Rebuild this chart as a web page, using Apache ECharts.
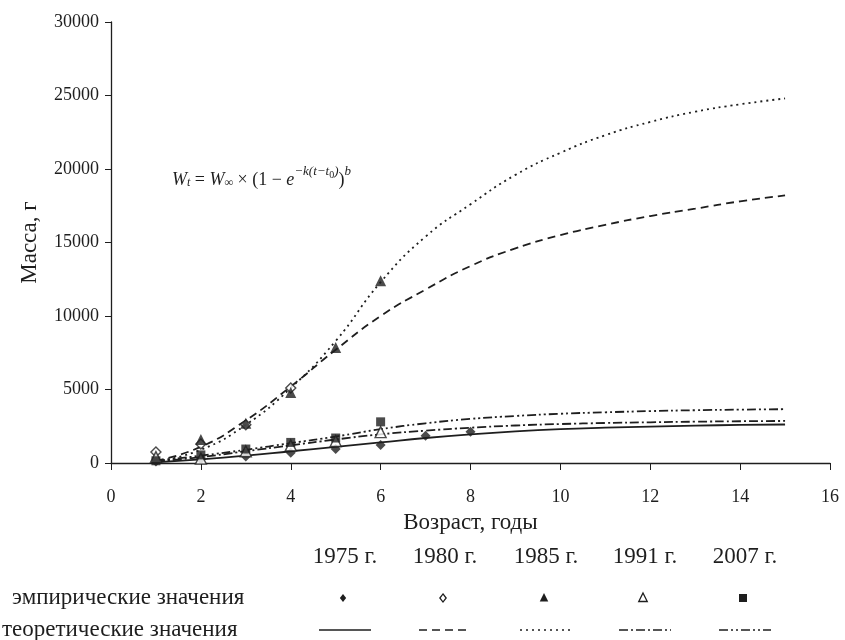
<!DOCTYPE html>
<html>
<head>
<meta charset="utf-8">
<script src="https://cdn.jsdelivr.net/npm/echarts@6/dist/echarts.min.js"></script>
<style>html,body{margin:0;padding:0;background:#fff;}#c{width:845px;height:640px;}</style>
</head>
<body>
<div id="c"></div>
<script>
// ---- data ----
var years = ['1975 г.', '1980 г.', '1985 г.', '1991 г.', '2007 г.'];
var xTicks = [0, 2, 4, 6, 8, 10, 12, 14, 16];
var yTicks = [0, 5000, 10000, 15000, 20000, 25000, 30000];
var ages = [1, 2, 3, 4, 5, 6, 7, 8, 9, 10, 11, 12, 13, 14, 15];

// empirical values [age, mass]
var emp1975 = [[1, 100], [2, 250], [3, 450], [4, 700], [5, 960], [6, 1230], [7, 1850], [8, 2120]];
var emp1980 = [[1, 750], [2, 1300], [3, 2600], [4, 5100]];
var emp1985 = [[1, 300], [2, 1600], [3, 2700], [4, 4800], [5, 7850], [6, 12400]];
var emp1991 = [[1, 400], [2, 300], [3, 800], [4, 1200], [5, 1500], [6, 2100]];
var emp2007 = [[1, 150], [2, 550], [3, 950], [4, 1400], [5, 1700], [6, 2800]];

// theoretical values by age 1..15
var th1975 = [50, 250, 500, 800, 1100, 1400, 1700, 1950, 2150, 2300, 2400, 2480, 2540, 2590, 2620];
var th1980 = [150, 1100, 2900, 5200, 7700, 10000, 11800, 13400, 14600, 15500, 16200, 16800, 17300, 17800, 18200];
var th1985 = [100, 900, 2600, 5100, 8300, 12300, 15400, 17600, 19600, 21100, 22300, 23200, 23900, 24400, 24800];
var th1991 = [100, 400, 800, 1200, 1600, 1950, 2200, 2400, 2550, 2650, 2720, 2770, 2810, 2840, 2860];
var th2007 = [150, 500, 900, 1350, 1800, 2300, 2700, 3000, 3200, 3350, 3450, 3530, 3590, 3630, 3660];

var xName = 'Возраст, годы';
var yName = 'Масса, г';
var rowEmp = 'эмпирические значения';
var rowTh = 'теоретические значения';

// ---- styles ----
var INK = '#1e1e1e';
var FONT = '"Liberation Serif", "Times New Roman", serif';
var TXT = 23;
var emp = [emp1975, emp1980, emp1985, emp1991, emp2007];
var th = [th1975, th1980, th1985, th1991, th2007];
var symbols = ['diamond', 'diamond', 'triangle', 'triangle', 'rect'];
var hollow = [false, true, false, true, false];
var symSize = [10, 10, 11, 11, 9];
var legSize = [9, 9, 10, 10, 8];
var dashes = ['solid', [8, 5], [2, 4], [9, 3, 2, 3], [9, 3, 2, 3, 2, 3]];

function pairs(vals) { return ages.map(function (a, i) { return [a, vals[i]]; }); }

var series = [];
for (var k = 0; k < 5; k++) {
  series.push({
    name: years[k] + ' теор.', type: 'line', data: pairs(th[k]), smooth: true,
    showSymbol: false, silent: true, z: 2,
    lineStyle: { color: INK, width: 1.8, type: dashes[k] }
  });
}
for (var k2 = 0; k2 < 5; k2++) {
  series.push({
    name: years[k2] + ' эмп.', type: 'scatter', data: emp[k2], symbol: symbols[k2],
    symbolSize: symSize[k2], z: 3,
    itemStyle: hollow[k2] ? { color: '#fff', borderColor: INK, borderWidth: 1.4 } : { color: INK }
  });
}

// legend graphics
var colX = [345, 445, 546, 645, 745];
var g = [];
g.push({ type: 'text', x: 12, y: 598, style: { text: rowEmp, font: TXT + 'px ' + FONT, fill: INK, verticalAlign: 'middle' } });
g.push({ type: 'text', x: 2, y: 630, style: { text: rowTh, font: TXT + 'px ' + FONT, fill: INK, verticalAlign: 'middle' } });
for (var j = 0; j < 5; j++) {
  g.push({ type: 'text', x: colX[j], y: 557, style: { text: years[j], font: TXT + 'px ' + FONT, fill: INK, align: 'center', verticalAlign: 'middle' } });
  var mx = colX[j] - 2, my = 598, s = legSize[j] / 2;
  var st = hollow[j] ? { fill: '#fff', stroke: INK, lineWidth: 1.3 } : { fill: INK };
  if (symbols[j] === 'diamond') {
    g.push({ type: 'polygon', shape: { points: [[mx, my - s * 0.9], [mx + s * 0.7, my], [mx, my + s * 0.9], [mx - s * 0.7, my]] }, style: st });
  } else if (symbols[j] === 'triangle') {
    g.push({ type: 'polygon', shape: { points: [[mx, my - s], [mx + s * 0.85, my + s * 0.7], [mx - s * 0.85, my + s * 0.7]] }, style: st });
  } else {
    g.push({ type: 'rect', shape: { x: mx - 4, y: my - 4, width: 8, height: 8 }, style: st });
  }
  var ls = { stroke: INK, lineWidth: 1.6 };
  if (dashes[j] !== 'solid') ls.lineDash = dashes[j];
  g.push({ type: 'line', shape: { x1: colX[j] - 26, y1: 630, x2: colX[j] + 26, y2: 630 }, style: ls });
}
// formula
g.push({
  type: 'text', left: 172, top: 165,
  style: {
    text: '{i|W}{sub|t}{n| = }{i|W}{sub|∞}{n| × (1 − }{i|e}{sup|−k(t−t}{sup2|0}{sup|)}{n|)}{sup|b}',
    fill: INK, font: '18px ' + FONT,
    rich: {
      i: { fontFamily: FONT, fontStyle: 'italic', fontSize: 18, fill: INK, lineHeight: 24, verticalAlign: 'bottom' },
      n: { fontFamily: FONT, fontSize: 18, fill: INK, lineHeight: 24, verticalAlign: 'bottom' },
      sub: { fontFamily: FONT, fontStyle: 'italic', fontSize: 12, fill: INK, verticalAlign: 'bottom', lineHeight: 24 },
      sup: { fontFamily: FONT, fontStyle: 'italic', fontSize: 13, fill: INK, verticalAlign: 'top', lineHeight: 24 },
      sup2: { fontFamily: FONT, fontSize: 10, fill: INK, verticalAlign: 'top', lineHeight: 24, padding: [5, 0, 0, 0] }
    }
  }
});

var chart = echarts.init(document.getElementById('c'), null, { renderer: 'canvas' });
chart.setOption({
  backgroundColor: '#fff',
  animation: false,
  grid: { left: 111, right: 15, top: 22, bottom: 177 },
  xAxis: {
    type: 'value', min: xTicks[0], max: xTicks[xTicks.length - 1], interval: 2,
    name: xName, nameLocation: 'middle', nameGap: 48,
    nameTextStyle: { fontFamily: FONT, fontSize: TXT, color: INK },
    axisLine: { lineStyle: { color: INK, width: 1.3 } },
    axisTick: { show: true, length: 7, lineStyle: { color: INK } },
    axisLabel: { fontFamily: FONT, fontSize: 18, color: INK, margin: 25 },
    splitLine: { show: false }
  },
  yAxis: {
    type: 'value', min: yTicks[0], max: yTicks[yTicks.length - 1], interval: 5000,
    name: yName, nameLocation: 'middle', nameGap: 70, nameRotate: 90,
    nameTextStyle: { fontFamily: FONT, fontSize: TXT, color: INK },
    axisLine: { show: true, lineStyle: { color: INK, width: 1.3 } },
    axisTick: { show: true, length: 6, lineStyle: { color: INK } },
    axisLabel: { fontFamily: FONT, fontSize: 18, color: INK, margin: 12, formatter: function (v) { return String(v); } },
    splitLine: { show: false }
  },
  legend: { show: false },
  series: series,
  graphic: g
});
</script>
</body>
</html>
